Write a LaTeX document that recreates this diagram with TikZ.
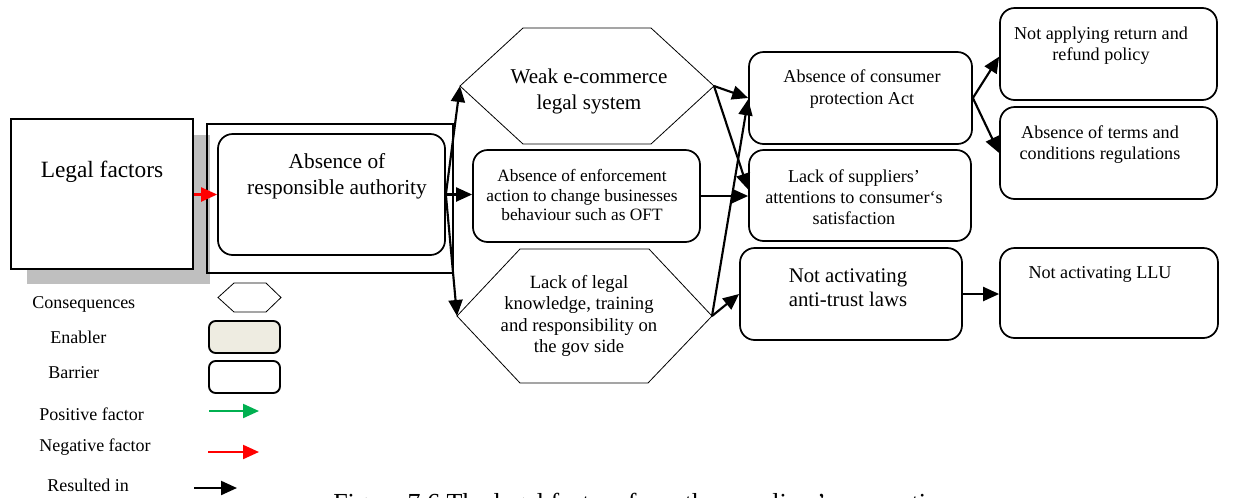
\documentclass[tikz,border=0pt]{standalone}
\usepackage{fontspec}
\setmainfont{Liberation Serif}
\usetikzlibrary{arrows.meta,fit}

\definecolor{shadowgray}{HTML}{BFBFBF}
\definecolor{enablerfill}{HTML}{EEECE1}
\definecolor{posgreen}{HTML}{00B050}
\definecolor{negred}{HTML}{FF0000}

\newcommand{\fs}[2]{\fontsize{#1}{#2}\selectfont}

\begin{document}
\begin{tikzpicture}[x=0.75pt,y=-0.75pt,
  box/.style={draw, line width=1.3pt, rounded corners=11pt, inner sep=0pt, fill=white},
  smallbox/.style={draw, line width=1.4pt, rounded corners=5pt, inner sep=0pt},
  plainbox/.style={draw, line width=1.1pt, inner sep=0pt},
  hexline/.style={line width=0.6pt},
  lbl/.style={align=center, inner sep=0pt},
  legendlbl/.style={anchor=west, inner sep=0pt, font=\fs{13.5}{16}},
  arrowtip/.style={-{Triangle[length=12pt,width=10.5pt]}},
  resarrow/.style={arrowtip, line width=1.6pt, black},
  negarrow/.style={arrowtip, line width=1.6pt, negred},
  posarrow/.style={arrowtip, line width=1.6pt, posgreen}]
\useasboundingbox (0,0) rectangle (1233,497);
\clip (0,0) rectangle (1233,497);

% ---- source factor with its shadow ----
\fill[shadowgray] (27,135) rectangle (210,284);
\node[plainbox, fill=white, fit={(11,119) (193,269)}] (legal) {};
\node[lbl, font=\fs{17.5}{21}] (legal-t) at (102,172) {Legal factors};

% ---- framed barrier ----
\node[plainbox, line width=1pt, fit={(207,124) (453,273)}] (frame) {};
\node[box, fit={(218,134) (445,255)}] (authority) {};
\node[lbl, font=\fs{16}{19.5}] (authority-t) at (337,176) {Absence of\\responsible authority};

% ---- consequences (hexagons) ----
\coordinate (hexA-w) at (460,86);
\coordinate (hexA-e) at (714,86);
\draw[hexline] (hexA-w) -- (523,28) -- (651,28) -- (hexA-e) -- (651,144) -- (523,144) -- cycle;
\node[lbl, font=\fs{15.8}{19.5}] (hexA) at (589,91) {Weak e-commerce\\legal system};

\coordinate (hexB-w) at (457,316);
\coordinate (hexB-e) at (712,316);
\draw[hexline] (hexB-w) -- (520,249) -- (649,249) -- (hexB-e) -- (648,383) -- (520,383) -- cycle;
\node[lbl, font=\fs{14}{16.2}] (hexB) at (579,316) {Lack of legal\\knowledge, training\\and responsibility on\\the gov side};

% ---- middle barrier ----
\node[box, fit={(473,150) (700,242)}] (enf) {};
\node[lbl, font=\fs{13}{14.7}] (enf-t) at (582,195) {Absence of enforcement\\action to change businesses\\behaviour such as OFT};

% ---- third column ----
\node[box, fit={(749,52) (972,144)}] (cpa) {};
\node[lbl, font=\fs{13.6}{16.5}] (cpa-t) at (862,89) {Absence of consumer\\protection Act};

\node[box, fit={(749,150) (971,241)}] (sup) {};
\node[lbl, font=\fs{13.6}{15.7}] (sup-t) at (854,197) {Lack of suppliers'\\attentions to consumer‘s\\satisfaction};

\node[box, fit={(740,248) (962,340)}] (anti) {};
\node[lbl, font=\fs{15.6}{18}] (anti-t) at (848,288) {Not activating\\anti-trust laws};

% ---- fourth column ----
\node[box, fit={(1000,8) (1217,100)}] (ret) {};
\node[lbl, font=\fs{13.6}{15.8}] (ret-t) at (1101,46) {Not applying return and\\refund policy};

\node[box, fit={(1000,107) (1217,199)}] (terms) {};
\node[lbl, font=\fs{13.6}{15.8}] (terms-t) at (1100,145) {Absence of terms and\\conditions regulations};

\node[box, fit={(1000,248) (1218,338)}] (llu) {};
\node[lbl, font=\fs{13.6}{16}] (llu-t) at (1100,274) {Not activating LLU};

% ---- connectors ----
\draw[negarrow] (legal.east |- authority.west) -- (authority.west);
\draw[resarrow] (authority.east) -- (authority.east -| enf.west);
\draw[resarrow] (authority.east) -- (hexA-w);
\draw[resarrow] (authority.east) -- (hexB-w);

\draw[resarrow] (hexA-e) -- (cpa.west);
\draw[resarrow] (hexA-e) -- ([yshift=4.5pt]sup.west);
\draw[resarrow] (enf.east) -- (enf.east -| sup.west);
\draw[resarrow] (hexB-e) -- ([yshift=-1pt]cpa.west);
\draw[resarrow] (hexB-e) -- (anti.west);

\draw[resarrow] (cpa.east) -- ([yshift=-2pt]ret.west);
\draw[resarrow] (cpa.east) -- (terms.west);
\draw[resarrow] (anti.east) -- (anti.east -| llu.west);

% ---- legend ----
\node[legendlbl] (lg-cons) at (32,304) {Consequences};
\draw[hexline] (218,297.5) -- (234,283) -- (266,283) -- (281,297.5) -- (266,312) -- (234,312) -- cycle;

\node[legendlbl] (lg-enab) at (50,337) {Enabler};
\node[smallbox, fill=enablerfill, fit={(209,321) (280,353)}] (lg-enab-box) {};

\node[legendlbl] (lg-barr) at (48,373) {Barrier};
\node[smallbox, fit={(209,361) (280,393)}] (lg-barr-box) {};

\node[legendlbl] (lg-pos) at (39,414) {Positive factor};
\coordinate (lg-pos-a) at (209,411);
\coordinate (lg-pos-b) at (259,411);
\draw[posarrow] (lg-pos-a) -- (lg-pos-b);

\node[legendlbl] (lg-neg) at (39,447) {Negative factor};
\coordinate (lg-neg-a) at (208,452);
\coordinate (lg-neg-b) at (259,452);
\draw[negarrow] (lg-neg-a) -- (lg-neg-b);

\node[legendlbl] (lg-res) at (47,485) {Resulted in};
\coordinate (lg-res-a) at (194,488);
\coordinate (lg-res-b) at (237,488);
\draw[resarrow] (lg-res-a) -- (lg-res-b);

% ---- caption (runs past the lower edge) ----
\node[anchor=base west, inner sep=0pt, font=\fs{19.5}{22}] (caption) at (333,511)
  {Figure 7.6 The legal factors from the suppliers' perspective};
\end{tikzpicture}
\end{document}
